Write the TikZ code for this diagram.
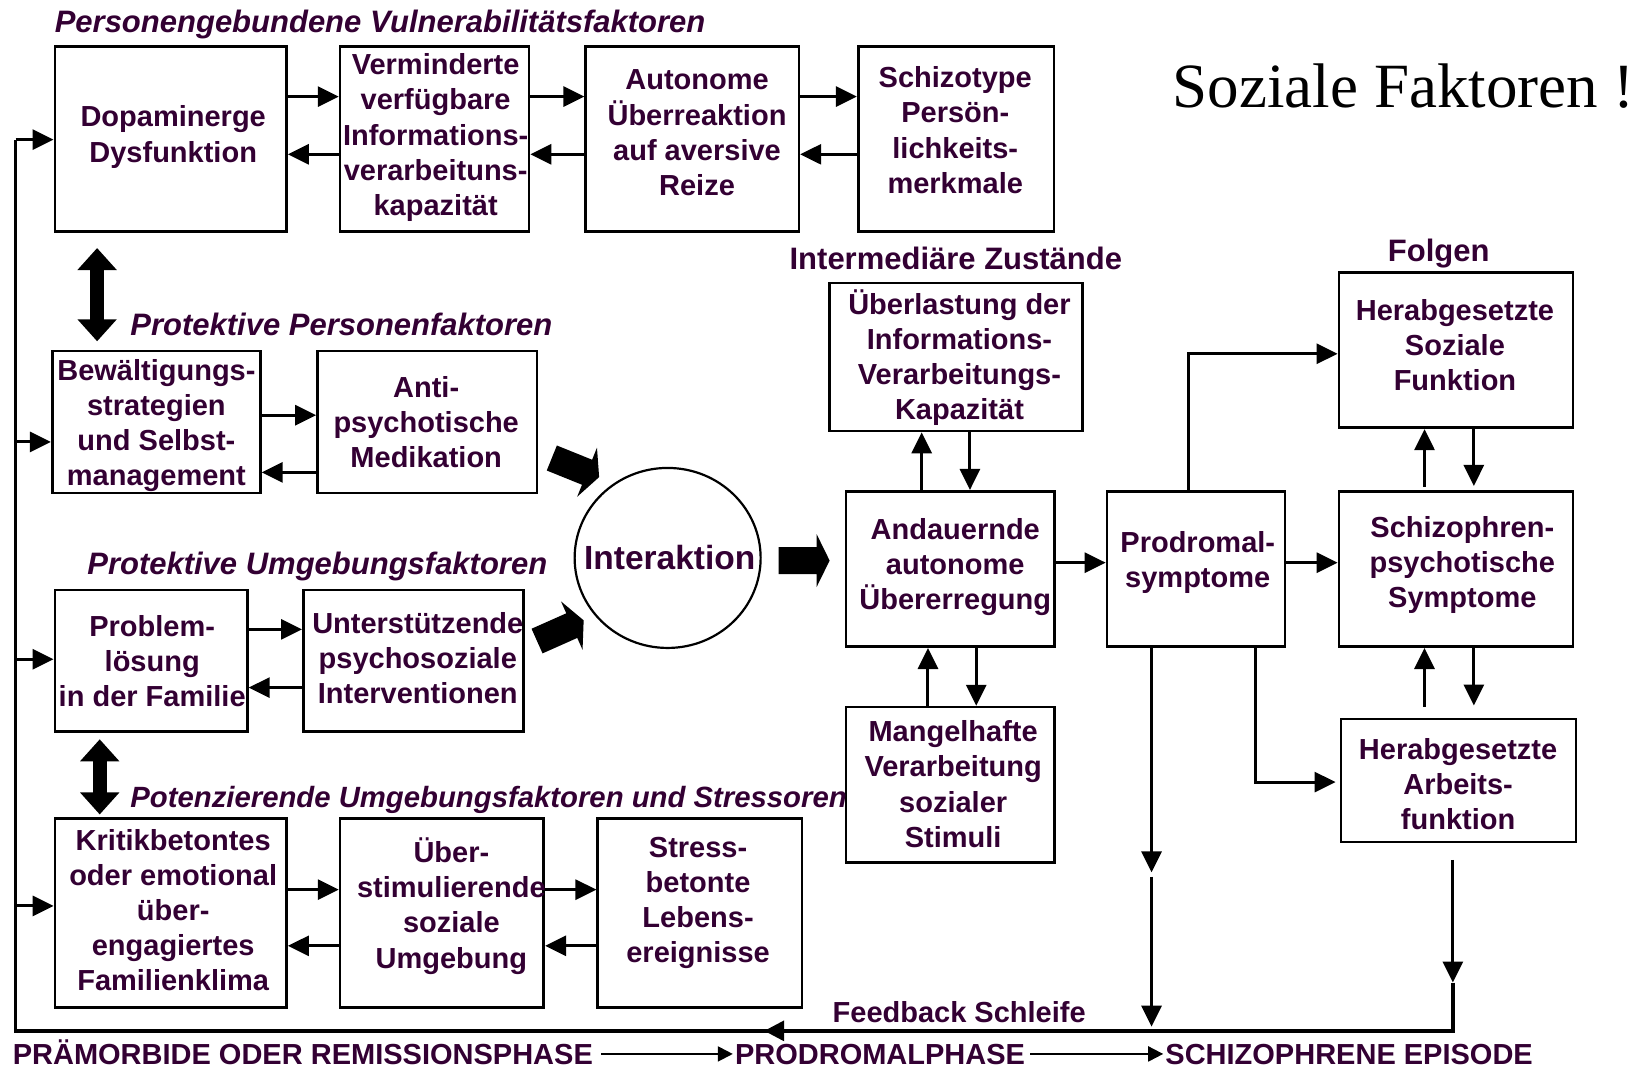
\documentclass[tikz,border=0pt]{standalone}
\usepackage{fontspec}
\setmainfont{Liberation Sans}
\newfontfamily\timesf{Liberation Serif}
\usetikzlibrary{arrows.meta,fit,shapes.geometric}
\definecolor{tp}{HTML}{330033}
\newcommand{\fatarrow}[3]{\fill[shift={(#1,#2)}, rotate=#3] (-24.3,-12.85) -- (11.9,-12.85) -- (11.9,-25.25) -- (24.3,0) -- (11.9,25.25) -- (11.9,12.85) -- (-24.3,12.85) -- cycle;}
\begin{document}
\begin{tikzpicture}[x=1.0497pt,y=-1.0497pt,
  box/.style={draw, line width=2.7pt, inner sep=0pt},
  txt/.style={text=tp, font=\bfseries\fontsize{29}{35.2}\selectfont, align=center, inner sep=0pt},
  head/.style={text=tp, font=\bfseries\itshape\fontsize{31}{36}\selectfont, inner sep=0pt, anchor=base west},
  headu/.style={text=tp, font=\bfseries\fontsize{31}{36}\selectfont, inner sep=0pt, anchor=base west},
  phase/.style={text=tp, font=\bfseries\fontsize{29}{34}\selectfont, inner sep=0pt, anchor=base west},
  arr/.style={line width=3pt, -{Triangle[length=21pt,width=20pt]}},
  parr/.style={line width=2pt, -{Triangle[length=15pt,width=15pt]}},
  dbl/.style={line width=14pt, {Triangle[length=22pt,width=38pt]}-{Triangle[length=22pt,width=38pt]}}
]
\useasboundingbox (0,0) rectangle (1568,1018);

% boxes
\node[box, fit={(52.3,44.5) (273,220.7)}] (b1) {};
\node[box, fit={(324,44.5) (504,220.7)}] (b2) {};
\node[box, fit={(558,44.5) (761,220.7)}] (b3) {};
\node[box, fit={(817.5,44.5) (1004,220.7)}] (b4) {};
\node[box, fit={(49.7,334.5) (248,469.5)}] (b5) {};
\node[box, fit={(302.5,334.5) (511.5,469.5)}] (b6) {};
\node[box, fit={(790,269.5) (1031,410.5)}] (b7) {};
\node[box, fit={(1275.5,259.5) (1498.5,407.5)}] (b8) {};
\node[box, fit={(806,468) (1004.5,616)}] (b9) {};
\node[box, fit={(1054.6,468) (1224,616)}] (b10) {};
\node[box, fit={(1275.5,468) (1498.5,616)}] (b11) {};
\node[box, fit={(806,673.6) (1004.5,821.5)}] (b12) {};
\node[box, line width=2pt, fit={(1277,684.5) (1501.5,802)}] (b13) {};
\node[box, fit={(52.3,562) (235.6,696.6)}] (b14) {};
\node[box, fit={(289,562) (498.5,696.6)}] (b15) {};
\node[box, fit={(52.3,780) (273,959.5)}] (b16) {};
\node[box, fit={(324,780) (518,959.5)}] (b17) {};
\node[box, fit={(569.5,780) (764,959.5)}] (b18) {};

% box texts
\node[txt] (t1) at (165,130.5) {Dopaminerge\\Dysfunktion};
\node[txt] (t2) at (415,131) {Verminderte\\verfügbare\\Informations-\\verarbeituns-\\kapazität};
\node[txt] (t3) at (664,126.5) {Autonome\\Überreaktion\\auf aversive\\Reize};
\node[txt] (t4) at (910,124) {Schizotype\\Persön-\\lichkeits-\\merkmale};
\node[txt] (t5) at (149,405.5) {Bewältigungs-\\strategien\\und Selbst-\\management};
\node[txt] (t6) at (406,402) {Anti-\\psychotische\\Medikation};
\node[txt] (t7) at (914,340.5) {Überlastung der\\Informations-\\Verarbeitungs-\\Kapazität};
\node[txt] (t8) at (1386,329) {Herabgesetzte\\Soziale\\Funktion};
\node[txt] (t9) at (910,540) {Andauernde\\autonome\\Übererregung};
\node[txt] (t10) at (1141,536) {Prodromal-\\symptome};
\node[txt] (t11) at (1393,538) {Schizophren-\\psychotische\\Symptome};
\node[txt] (t12) at (908,747) {Mangelhafte\\Verarbeitung\\sozialer\\Stimuli};
\node[txt] (t13) at (1389,747) {Herabgesetzte\\Arbeits-\\funktion};
\node[txt] (t14) at (145,630) {Problem-\\lösung\\in der Familie};
\node[txt] (t15) at (398,627) {Unterstützende\\psychosoziale\\Interventionen};
\node[txt] (t16) at (165,867) {Kritikbetontes\\oder emotional\\über-\\engagiertes\\Familienklima};
\node[txt] (t17) at (430,863) {Über-\\stimulierende\\soziale\\Umgebung};
\node[txt] (t18) at (665,860) {Stress-\\betonte\\Lebens-\\ereignisse};

% headings
\node[head] (h1) at (52,30.5) {Personengebundene Vulnerabilitätsfaktoren};
\node[head] (h2) at (124,320) {Protektive Personenfaktoren};
\node[headu] (h3) at (752,257) {Intermediäre Zustände};
\node[headu] (h4) at (1322,249.5) {Folgen};
\node[head] (h5) at (83,547) {Protektive Umgebungsfaktoren};
\node[head, font=\bfseries\itshape\fontsize{29.3}{34}\selectfont] (h6) at (124,769) {Potenzierende Umgebungsfaktoren und Stressoren};
\node[inner sep=0pt, anchor=base west, font=\timesf\fontsize{63}{70}\selectfont] (sf) at (1117,102) {Soziale Faktoren !};

% Interaktion
\node[draw, ellipse, line width=2.2pt, minimum width=186pt, minimum height=180pt, inner sep=0pt] (ia) at (636,531.5) {};
\node[text=tp, font=\bfseries\fontsize{33.5}{40}\selectfont, inner sep=0pt, anchor=base] (iat) at (638,542.5) {Interaktion};

% fat arrows
\fatarrow{548.2}{445.4}{-22}
\fatarrow{533.8}{600.8}{24}
\fatarrow{766}{534}{0}

% level coordinates
\coordinate (ya) at (0,92); \coordinate (yb) at (0,147);
\coordinate (yc) at (0,395.5); \coordinate (yd) at (0,450);
\coordinate (ye) at (0,599.5); \coordinate (yf) at (0,655);
\coordinate (yg) at (0,847.5); \coordinate (yh) at (0,901);
\coordinate (ym) at (0,536);

% row 1
\draw[arr] (b1.east|-ya) -- (b2.west|-ya);
\draw[arr] (b2.west|-yb) -- (b1.east|-yb);
\draw[arr] (b2.east|-ya) -- (b3.west|-ya);
\draw[arr] (b3.west|-yb) -- (b2.east|-yb);
\draw[arr] (b3.east|-ya) -- (b4.west|-ya);
\draw[arr] (b4.west|-yb) -- (b3.east|-yb);
% row 2
\draw[arr] (b5.east|-yc) -- (b6.west|-yc);
\draw[arr] (b6.west|-yd) -- (b5.east|-yd);
% row 3
\draw[arr] (b14.east|-ye) -- (b15.west|-ye);
\draw[arr] (b15.west|-yf) -- (b14.east|-yf);
% row 4
\draw[arr] (b16.east|-yg) -- (b17.west|-yg);
\draw[arr] (b17.west|-yh) -- (b16.east|-yh);
\draw[arr] (b17.east|-yg) -- (b18.west|-yg);
\draw[arr] (b18.west|-yh) -- (b17.east|-yh);
% middle row
\draw[arr] (b9.east|-ym) -- (b10.west|-ym);
\draw[arr] (b10.east|-ym) -- (b11.west|-ym);

% vertical pairs
\coordinate (xc) at (878,0); \coordinate (xd) at (924,0);
\coordinate (xe) at (884,0); \coordinate (xf) at (930,0);
\coordinate (xa) at (1357,0); \coordinate (xb) at (1404,0);
\draw[arr] (b9.north-|xc) -- (b7.south-|xc);
\draw[arr] (b7.south-|xd) -- (b9.north-|xd);
\draw[arr] (b12.north-|xe) -- (b9.south-|xe);
\draw[arr] (b9.south-|xf) -- (b12.north-|xf);
\draw[arr, shorten <=3pt] (b11.north-|xa) -- (b8.south-|xa);
\draw[arr, shorten >=4pt] (b8.south-|xb) -- (b11.north-|xb);
\draw[arr, shorten <=11pt] (b13.north-|xa) -- (b11.south-|xa);
\draw[arr, shorten >=12pt] (b11.south-|xb) -- (b13.north-|xb);

% Prodromal branches
\coordinate (u1) at (1132,337);
\draw[arr] (b10.north-|u1) -- (u1) -- (b8.west|-u1);
\coordinate (d1) at (1196,745);
\draw[arr, shorten >=4pt] (b10.south-|d1) -- (d1) -- (b13.west|-d1);
\coordinate (pd1) at (1097,831); \coordinate (pd2) at (1097,835); \coordinate (pd3) at (1097,978);
\draw[arr] (b10.south-|pd1) -- (pd1);
\draw[arr] (pd2) -- (pd3);

% double arrows
\coordinate (dx1) at (92.5,0); \coordinate (dx2) at (95,0);
\draw[dbl, shorten <=15pt, shorten >=8.5pt] (b1.south-|dx1) -- (b5.north-|dx1);
\draw[dbl, shorten <=6.7pt, shorten >=3pt] (b14.south-|dx2) -- (b16.north-|dx2);

% feedback loop
\coordinate (fbR) at (1384,982); \coordinate (fbL) at (15,982); \coordinate (fbT) at (15,133);
\coordinate (fbA) at (1384,936); \coordinate (fbM) at (728,982);
\draw[arr, shorten <=17pt] (b13.south-|fbR) -- (fbA);
\draw[line width=3.5pt] (fbA) -- (fbR) -- (fbL) -- (fbT);
\draw[line width=3.5pt, -{Triangle[length=20pt,width=20pt]}] (fbR) -- (fbM);
\coordinate (l1) at (15,133); \coordinate (l2) at (15,421); \coordinate (l3) at (15,628); \coordinate (l4) at (15,863);
\draw[arr] (l1) -- (b1.west|-l1);
\draw[arr] (l2) -- (b5.west|-l2);
\draw[arr] (l3) -- (b14.west|-l3);
\draw[arr] (l4) -- (b16.west|-l4);
\node[phase] (fbt) at (793,974) {Feedback Schleife};

% phases
\node[phase] (p1) at (12,1014) {PRÄMORBIDE ODER REMISSIONSPHASE};
\node[phase] (p2) at (700,1014) {PRODROMALPHASE};
\node[phase] (p3) at (1110,1014) {SCHIZOPHRENE EPISODE};
\coordinate (py) at (0,1004);
\draw[parr, shorten <=8pt, shorten >=2pt] (p1.east|-py) -- (p2.west|-py);
\draw[parr, shorten <=5pt, shorten >=2pt] (p2.east|-py) -- (p3.west|-py);
\end{tikzpicture}
\end{document}
